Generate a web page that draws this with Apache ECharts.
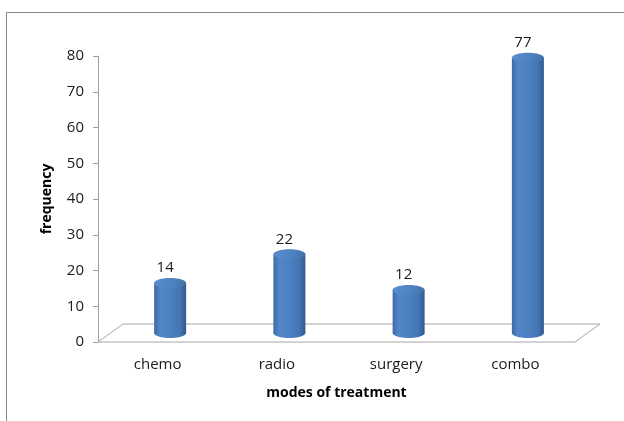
<!DOCTYPE html>
<html>
<head>
<meta charset="utf-8">
<script src="https://cdn.jsdelivr.net/npm/echarts@6/dist/echarts.min.js"></script>
<style>
  html, body { margin: 0; padding: 0; background: #ffffff; }
  #chart { width: 624px; height: 421px; }
</style>
</head>
<body>
<div id="chart"></div>
<script>
// Treatment modes and how often each was used
const categories = ['chemo', 'radio', 'surgery', 'combo'];
const frequencies = [14, 22, 12, 77];
const yTicks = { min: 0, max: 80, step: 10 };

const FONT = 'Open Sans';
// floor depth offset (the 3-D "back wall" shift)
const DEPTH_X = 25, DEPTH_Y = -18;
const R_X = 16, R_Y = 5;

const chart = echarts.init(document.getElementById('chart'), null, { renderer: 'canvas' });

function floorItem(params, api) {
  const cs = params.coordSys;
  const x0 = cs.x, x1 = cs.x + cs.width, y0 = cs.y + cs.height;
  return {
    type: 'polygon',
    shape: { points: [[x0, y0], [x1, y0], [x1 + DEPTH_X, y0 + DEPTH_Y], [x0 + DEPTH_X, y0 + DEPTH_Y]] },
    style: { fill: '#ffffff', stroke: '#a6a6a6', lineWidth: 1 },
    z2: 0
  };
}

function cylinderItem(params, api) {
  const idx = api.value(0);
  const val = api.value(1);
  const top = api.coord([idx, val]);
  const base = api.coord([idx, 0]);
  const cx = top[0] + DEPTH_X / 2;
  const ty = top[1] + DEPTH_Y / 2;
  const by = base[1] + DEPTH_Y / 2;
  const body = new echarts.graphic.LinearGradient(0, 0, 1, 0, [
    { offset: 0, color: '#3d6ba6' },
    { offset: 0.18, color: '#5185c5' },
    { offset: 0.5, color: '#4d81c1' },
    { offset: 0.82, color: '#4474b3' },
    { offset: 1, color: '#30598f' }
  ]);
  const cap = new echarts.graphic.LinearGradient(0, 0, 1, 1, [
    { offset: 0, color: '#5a8ed0' },
    { offset: 0.6, color: '#4d81c1' },
    { offset: 1, color: '#41709f' }
  ]);
  const shadow = new echarts.graphic.RadialGradient(0.55, 0.5, 0.5, [
    { offset: 0, color: 'rgba(60,60,60,0.55)' },
    { offset: 1, color: 'rgba(120,120,120,0)' }
  ]);
  return {
    type: 'group',
    children: [
      { type: 'ellipse', shape: { cx: cx + 4, cy: by + 1, rx: R_X + 16, ry: 4 }, style: { fill: shadow } },
      { type: 'ellipse', shape: { cx: cx, cy: by, rx: R_X, ry: R_Y }, style: { fill: body } },
      { type: 'rect', shape: { x: cx - R_X, y: ty, width: 2 * R_X, height: by - ty }, style: { fill: body } },
      { type: 'ellipse', shape: { cx: cx, cy: ty, rx: R_X, ry: R_Y }, style: { fill: cap } },
      {
        type: 'text',
        x: cx - 5, y: ty - 15,
        style: { text: String(val), fill: '#1a1a1a', font: '15px "' + FONT + '"', align: 'center', verticalAlign: 'middle' }
      }
    ]
  };
}

chart.setOption({
  animation: false,
  backgroundColor: '#ffffff',
  graphic: [{
    type: 'rect', silent: true, z: -10,
    shape: { x: 6.5, y: 12.5, width: 700, height: 500 },
    style: { fill: 'none', stroke: '#888888', lineWidth: 1 }
  }],
  grid: { left: 98, right: 49, top: 56, bottom: 79 },
  xAxis: {
    type: 'category',
    data: categories,
    name: 'modes of treatment',
    nameLocation: 'middle',
    nameGap: 44,
    nameTextStyle: { fontFamily: FONT, fontSize: 14, fontWeight: 'bold', color: '#000000' },
    axisLine: { show: false },
    axisTick: { show: false },
    axisLabel: { fontFamily: FONT, fontSize: 15, color: '#1a1a1a', margin: 15 },
    z: 5
  },
  yAxis: {
    type: 'value',
    min: yTicks.min, max: yTicks.max, interval: yTicks.step,
    name: 'frequency',
    nameLocation: 'middle',
    nameGap: 44,
    nameTextStyle: { fontFamily: FONT, fontSize: 14, fontWeight: 'bold', color: '#000000' },
    axisLine: { show: true, lineStyle: { color: '#a0a0a0', width: 1 } },
    axisTick: { show: true, length: 5, lineStyle: { color: '#a0a0a0' } },
    axisLabel: { fontFamily: FONT, fontSize: 15, color: '#1a1a1a', margin: 14 },
    splitLine: { show: false }
  },
  series: [
    {
      type: 'custom',
      renderItem: function (params, api) { return params.dataIndex === 0 ? floorItem(params, api) : null; },
      data: [[0, 0]],
      z: 1,
      silent: true
    },
    {
      type: 'custom',
      renderItem: cylinderItem,
      data: frequencies.map((v, i) => [i, v]),
      encode: { x: 0, y: 1 },
      z: 3
    }
  ]
});
</script>
</body>
</html>
